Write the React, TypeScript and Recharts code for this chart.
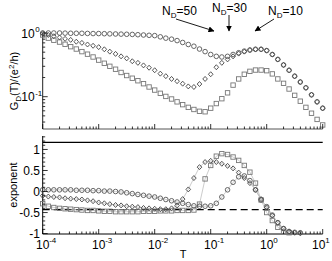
import React from "react";
import { ScatterChart, Scatter, XAxis, YAxis, ReferenceLine } from "recharts";

// temperature grid (same for all curves)
const T_VALUES = [
  1e-4, 1.26e-4, 1.58e-4, 2e-4, 2.51e-4, 3.16e-4, 3.98e-4, 5.01e-4, 6.31e-4, 7.94e-4,
  1e-3, 1.26e-3, 1.58e-3, 2e-3, 2.51e-3, 3.16e-3, 3.98e-3, 5.01e-3, 6.31e-3, 7.94e-3,
  1e-2, 1.26e-2, 1.58e-2, 2e-2, 2.51e-2, 3.16e-2, 3.98e-2, 5.01e-2, 6.31e-2, 7.94e-2,
  1e-1, 1.26e-1, 1.58e-1, 2e-1, 2.51e-1, 3.16e-1, 3.98e-1, 5.01e-1, 6.31e-1, 7.94e-1,
  1, 1.26, 1.58, 2, 2.51, 3.16, 3.98, 5.01, 6.31, 7.94, 10,
];

// G_D(T)/(e^2/h), upper panel
const G_CIRCLES = [
  1.0, 1.0, 1.0, 1.0, 0.995, 0.99, 0.99, 0.99, 0.985, 0.98,
  0.98, 0.975, 0.97, 0.965, 0.96, 0.955, 0.95, 0.94, 0.93, 0.92,
  0.91, 0.87, 0.83, 0.8, 0.76, 0.71, 0.66, 0.62, 0.56, 0.51,
  0.46, 0.43, 0.42, 0.43, 0.46, 0.49, 0.52, 0.54, 0.555, 0.555,
  0.53, 0.46, 0.385, 0.315, 0.26, 0.21, 0.17, 0.138, 0.107, 0.083, 0.066,
];
const G_DIAMONDS = [
  0.99, 0.93, 0.89, 0.85, 0.81, 0.78, 0.73, 0.7, 0.66, 0.63,
  0.6, 0.555, 0.51, 0.47, 0.43, 0.4, 0.36, 0.34, 0.31, 0.285,
  0.26, 0.23, 0.21, 0.19, 0.175, 0.16, 0.145, 0.142, 0.158, 0.19,
  0.225, 0.29, 0.34, 0.385, 0.43, 0.475, 0.51, 0.54, 0.555, 0.555,
  0.53, 0.46, 0.385, 0.315, 0.26, 0.21, 0.17, 0.138, 0.107, 0.083, 0.066,
];
const G_SQUARES = [
  0.93, 0.83, 0.77, 0.72, 0.665, 0.61, 0.56, 0.51, 0.465, 0.42,
  0.375, 0.335, 0.3, 0.27, 0.24, 0.215, 0.195, 0.178, 0.16, 0.142,
  0.127, 0.113, 0.101, 0.092, 0.083, 0.075, 0.068, 0.063, 0.059, 0.058,
  0.066, 0.078, 0.093, 0.115, 0.152, 0.19, 0.225, 0.25, 0.262, 0.262,
  0.256, 0.228, 0.19, 0.162, 0.132, 0.105, 0.085, 0.068, 0.055, 0.044, 0.036,
];

// exponent, lower panel
const E_CIRCLES = [
  0.04, 0.04, 0.04, 0.04, 0.04, 0.04, 0.03, 0.03, 0.03, 0.02,
  0.02, 0.01, 0.01, 0.0, -0.01, -0.03, -0.05, -0.07, -0.09, -0.11,
  -0.13, -0.16, -0.19, -0.22, -0.25, -0.28, -0.31, -0.34, -0.35, -0.35,
  -0.34, -0.28, -0.13, 0.04, 0.22, 0.35, 0.37, 0.26, 0.04, -0.2,
  -0.36, -0.56, -0.74, -0.88, -0.95, -0.97, -0.98,
];
const E_DIAMONDS = [
  -0.1, -0.12, -0.13, -0.14, -0.16, -0.17, -0.18, -0.19, -0.21, -0.23,
  -0.26, -0.28, -0.3, -0.32, -0.33, -0.35, -0.36, -0.37, -0.39, -0.4,
  -0.41, -0.42, -0.42, -0.4, -0.33, -0.18, 0.05, 0.32, 0.58, 0.7,
  0.73, 0.7, 0.66, 0.61, 0.55, 0.45, 0.32, 0.2, 0.04, -0.18,
  -0.38, -0.57, -0.74, -0.88, -0.95, -0.98, -0.99,
];
const E_SQUARES = [
  -0.29, -0.35, -0.38, -0.4, -0.41, -0.42, -0.43, -0.44, -0.45, -0.45,
  -0.46, -0.47, -0.47, -0.48, -0.48, -0.48, -0.48, -0.48, -0.47, -0.47,
  -0.47, -0.46, -0.46, -0.46, -0.45, -0.45, -0.45, -0.44, -0.3, 0.3,
  0.62, 0.84, 0.9, 0.88, 0.82, 0.74, 0.62, 0.46, 0.2, -0.2,
  -0.5, -0.69, -0.85, -0.95, -0.98,
];

const DASHED_LEVEL = -0.43;
const TOP_LINE_LEVEL = 1.17;

const X_MAJOR = [1e-4, 1e-3, 1e-2, 1e-1, 1, 10];
const X_MINOR_MULT = [2, 3, 4, 5, 6, 7, 8, 9];
const X_TICKS = [
  ...X_MAJOR,
  ...X_MAJOR.slice(0, 5).flatMap((d) => X_MINOR_MULT.map((m) => m * d)),
];
const G_TICKS = [
  1, 0.1,
  0.04, 0.05, 0.06, 0.07, 0.08, 0.09,
  0.2, 0.3, 0.4, 0.5, 0.6, 0.7, 0.8, 0.9,
];
const E_LABELS = [-1, -0.5, 0, 0.5, 1];
const E_TICKS = [
  -1, -0.9, -0.8, -0.7, -0.6, -0.5, -0.4, -0.3, -0.2, -0.1, 0,
  0.1, 0.2, 0.3, 0.4, 0.5, 0.6, 0.7, 0.8, 0.9, 1, 1.1, 1.2, 1.3,
];

const FONT = "Liberation Sans, Arial, sans-serif";

const W = 332;
const LEFT = 42.7;
const RIGHT_M = 9.3;

const pair = (ys: number[]) => ys.map((y, i) => ({ x: T_VALUES[i], y }));

const isDecade = (v: number) => {
  const l = Math.log10(v);
  return Math.abs(l - Math.round(l)) < 1e-6;
};
const isLabelE = (v: number) => E_LABELS.some((l) => Math.abs(l - v) < 1e-6);

const sup = (v: number) => String(Math.round(Math.log10(v)));

// ticks drawn inward from the frame
const bottomTick = (labels: boolean) => (props: any) => {
  const { x, y, payload } = props;
  const major = isDecade(payload.value);
  // last label would run off the right edge
  const lx = payload.value >= 10 ? x - 4 : x;
  return (
    <g>
      <line x1={x} x2={x} y1={y} y2={y - (major ? 5 : 2.5)} stroke="#000" strokeWidth={0.8} />
      {labels && major && (
        <g fontFamily={FONT} fill="#000">
          <text x={lx} y={y + 15} fontSize={12} textAnchor="middle">10</text>
          <text x={lx + 6.5} y={y + 9} fontSize={8} textAnchor="start">{sup(payload.value)}</text>
        </g>
      )}
    </g>
  );
};
const topTick = (props: any) => {
  const { x, y, payload } = props;
  const major = isDecade(payload.value);
  return <line x1={x} x2={x} y1={y} y2={y + (major ? 5 : 2.5)} stroke="#000" strokeWidth={0.8} />;
};
const leftLogTick = (props: any) => {
  const { x, y, payload } = props;
  const major = isDecade(payload.value);
  return (
    <g>
      <line x1={x} x2={x + (major ? 5 : 2.5)} y1={y} y2={y} stroke="#000" strokeWidth={0.8} />
      {major && (
        <g fontFamily={FONT} fill="#000">
          <text x={x - 8} y={y + 4.5} fontSize={12} textAnchor="end">10</text>
          <text x={x - 7.5} y={y - 1} fontSize={8} textAnchor="start">{sup(payload.value)}</text>
        </g>
      )}
    </g>
  );
};
const rightLogTick = (props: any) => {
  const { x, y, payload } = props;
  const major = isDecade(payload.value);
  return <line x1={x} x2={x - (major ? 5 : 2.5)} y1={y} y2={y} stroke="#000" strokeWidth={0.8} />;
};
const leftLinTick = (props: any) => {
  const { x, y, payload } = props;
  const major = isLabelE(payload.value);
  return (
    <g>
      <line x1={x} x2={x + (major ? 5 : 2.5)} y1={y} y2={y} stroke="#000" strokeWidth={0.8} />
      {major && (
        <text x={x - 2.7} y={y + 4.5} fontSize={12} fontFamily={FONT} textAnchor="end" fill="#000">
          {payload.value}
        </text>
      )}
    </g>
  );
};
const rightLinTick = (props: any) => {
  const { x, y, payload } = props;
  const major = isLabelE(payload.value);
  return <line x1={x} x2={x - (major ? 5 : 2.5)} y1={y} y2={y} stroke="#000" strokeWidth={0.8} />;
};

const circle = (color: string) => (p: any) => (
  <circle cx={p.cx} cy={p.cy} r={2.3} fill="none" stroke={color} strokeWidth={0.9} />
);
const diamond = (color: string) => (p: any) => (
  <path
    d={`M${p.cx},${p.cy - 2.5}L${p.cx + 2.3},${p.cy}L${p.cx},${p.cy + 2.5}L${p.cx - 2.3},${p.cy}Z`}
    fill="none"
    stroke={color}
    strokeWidth={0.9}
  />
);
const square = (color: string) => (p: any) => (
  <rect x={p.cx - 2.2} y={p.cy - 2.2} width={4.4} height={4.4} fill="none" stroke={color} strokeWidth={0.9} />
);

const C_COL = "#555";
const D_COL = "#444";
const S_COL = "#777";

const TopPanel = () => (
  <ScatterChart width={W} height={140} margin={{ top: 33, right: RIGHT_M, bottom: 0, left: 0 }}>
    <XAxis
      xAxisId="b"
      dataKey="x"
      type="number"
      scale="log"
      domain={[1e-4, 10]}
      ticks={X_TICKS}
      interval={0}
      height={11}
      tickSize={0}
      tickMargin={0}
      tick={bottomTick(false)}
      axisLine={{ stroke: "#555" }}
      tickLine={false}
    />
    <XAxis
      xAxisId="t"
      orientation="top"
      dataKey="x"
      type="number"
      scale="log"
      domain={[1e-4, 10]}
      ticks={X_TICKS}
      interval={0}
      height={0}
      tickSize={0}
      tickMargin={0}
      tick={topTick}
      axisLine={{ stroke: "#555" }}
      tickLine={false}
    />
    <YAxis
      yAxisId="l"
      dataKey="y"
      type="number"
      scale="log"
      domain={[0.0311, 1]}
      ticks={G_TICKS}
      interval={0}
      width={LEFT}
      tickSize={0}
      tickMargin={0}
      tick={leftLogTick}
      axisLine={{ stroke: "#222" }}
      tickLine={false}
    />
    <YAxis
      yAxisId="r"
      orientation="right"
      dataKey="y"
      type="number"
      scale="log"
      domain={[0.0311, 1]}
      ticks={G_TICKS}
      interval={0}
      width={0}
      tickSize={0}
      tickMargin={0}
      tick={rightLogTick}
      axisLine={{ stroke: "#555" }}
      tickLine={false}
    />
    <Scatter xAxisId="b" yAxisId="l" data={pair(G_SQUARES)} shape={square(S_COL)} isAnimationActive={false} />
    <Scatter xAxisId="b" yAxisId="l" data={pair(G_DIAMONDS)} shape={diamond(D_COL)} isAnimationActive={false} />
    <Scatter xAxisId="b" yAxisId="l" data={pair(G_CIRCLES)} shape={circle(C_COL)} isAnimationActive={false} />
  </ScatterChart>
);

const BottomPanel = () => (
  <ScatterChart width={W} height={261} margin={{ top: 136, right: RIGHT_M, bottom: 0, left: 0 }}>
    <XAxis
      xAxisId="b"
      dataKey="x"
      type="number"
      scale="log"
      domain={[1e-4, 10]}
      ticks={X_TICKS}
      interval={0}
      height={27}
      tickSize={0}
      tickMargin={0}
      tick={bottomTick(true)}
      axisLine={{ stroke: "#000" }}
      tickLine={false}
    />
    <XAxis
      xAxisId="t"
      orientation="top"
      dataKey="x"
      type="number"
      scale="log"
      domain={[1e-4, 10]}
      ticks={X_TICKS}
      interval={0}
      height={0}
      tickSize={0}
      tickMargin={0}
      tick={topTick}
      axisLine={{ stroke: "#666" }}
      tickLine={false}
    />
    <YAxis
      yAxisId="l"
      dataKey="y"
      type="number"
      domain={[-1.01, 1.32]}
      ticks={E_TICKS}
      interval={0}
      width={LEFT}
      tickSize={0}
      tickMargin={0}
      tick={leftLinTick}
      axisLine={{ stroke: "#000" }}
      tickLine={false}
    />
    <YAxis
      yAxisId="r"
      orientation="right"
      dataKey="y"
      type="number"
      domain={[-1.01, 1.32]}
      ticks={E_TICKS}
      interval={0}
      width={0}
      tickSize={0}
      tickMargin={0}
      tick={rightLinTick}
      axisLine={{ stroke: "#444" }}
      tickLine={false}
    />
    <ReferenceLine xAxisId="b" yAxisId="l" y={TOP_LINE_LEVEL} stroke="#000" strokeWidth={1.3} />
    <ReferenceLine xAxisId="b" yAxisId="l" y={DASHED_LEVEL} stroke="#000" strokeWidth={1.3} strokeDasharray="7 4" />
    <Scatter
      xAxisId="b"
      yAxisId="l"
      data={pair(E_SQUARES)}
      shape={square(S_COL)}
      line={{ stroke: "#aaa", strokeWidth: 0.6 }}
      isAnimationActive={false}
    />
    <Scatter
      xAxisId="b"
      yAxisId="l"
      data={pair(E_DIAMONDS)}
      shape={diamond(D_COL)}
      line={{ stroke: "#aaa", strokeWidth: 0.6 }}
      isAnimationActive={false}
    />
    <Scatter
      xAxisId="b"
      yAxisId="l"
      data={pair(E_CIRCLES)}
      shape={circle(C_COL)}
      line={{ stroke: "#aaa", strokeWidth: 0.6 }}
      isAnimationActive={false}
    />
  </ScatterChart>
);

const NLabel = ({ x, y, n }: { x: number; y: number; n: string }) => (
  <text x={x} y={y} fontFamily={FONT} fontSize={12} fill="#000">
    N<tspan fontSize={8} dy={3}>D</tspan>
    <tspan dy={-3}>={n}</tspan>
  </text>
);

const Overlay = () => (
  <svg width={W} height={261} style={{ position: "absolute", left: 0, top: 0 }}>
    <defs>
      <marker id="ah" markerWidth={6} markerHeight={6} refX={5.5} refY={3} orient="auto" markerUnits="userSpaceOnUse">
        <path d="M0,0 L6,3 L0,6 Z" fill="#000" />
      </marker>
    </defs>
    <NLabel x={162} y={15} n="50" />
    <NLabel x={212} y={12} n="30" />
    <NLabel x={268} y={15} n="10" />
    <line x1={176} y1={19} x2={214} y2={31} stroke="#000" strokeWidth={0.9} markerEnd="url(#ah)" />
    <line x1={229} y1={15} x2={229} y2={31} stroke="#000" strokeWidth={0.9} markerEnd="url(#ah)" />
    <line x1={274} y1={19} x2={255} y2={31} stroke="#000" strokeWidth={0.9} markerEnd="url(#ah)" />
    <text transform="translate(17.5,81) rotate(-90)" fontFamily={FONT} fontSize={11} textAnchor="middle" fill="#000">
      G<tspan fontSize={8} dy={3}>D</tspan>
      <tspan dy={-3}>(T)/(e</tspan>
      <tspan fontSize={8} dy={-4}>2</tspan>
      <tspan dy={4}>/h)</tspan>
    </text>
    <text transform="translate(16.5,185) rotate(-90)" fontFamily={FONT} fontSize={11} textAnchor="middle" fill="#000">
      exponent
    </text>
    <text x={183} y={258} fontFamily={FONT} fontSize={11} textAnchor="middle" fill="#000">
      T
    </text>
  </svg>
);

export default function App() {
  return (
    <div style={{ position: "absolute", left: 0, top: 0, width: W, height: 261, background: "#fff", overflow: "hidden" }}>
      <div style={{ position: "absolute", left: 0, top: 0 }}>
        <BottomPanel />
      </div>
      <div style={{ position: "absolute", left: 0, top: 0 }}>
        <TopPanel />
      </div>
      <Overlay />
    </div>
  );
}
